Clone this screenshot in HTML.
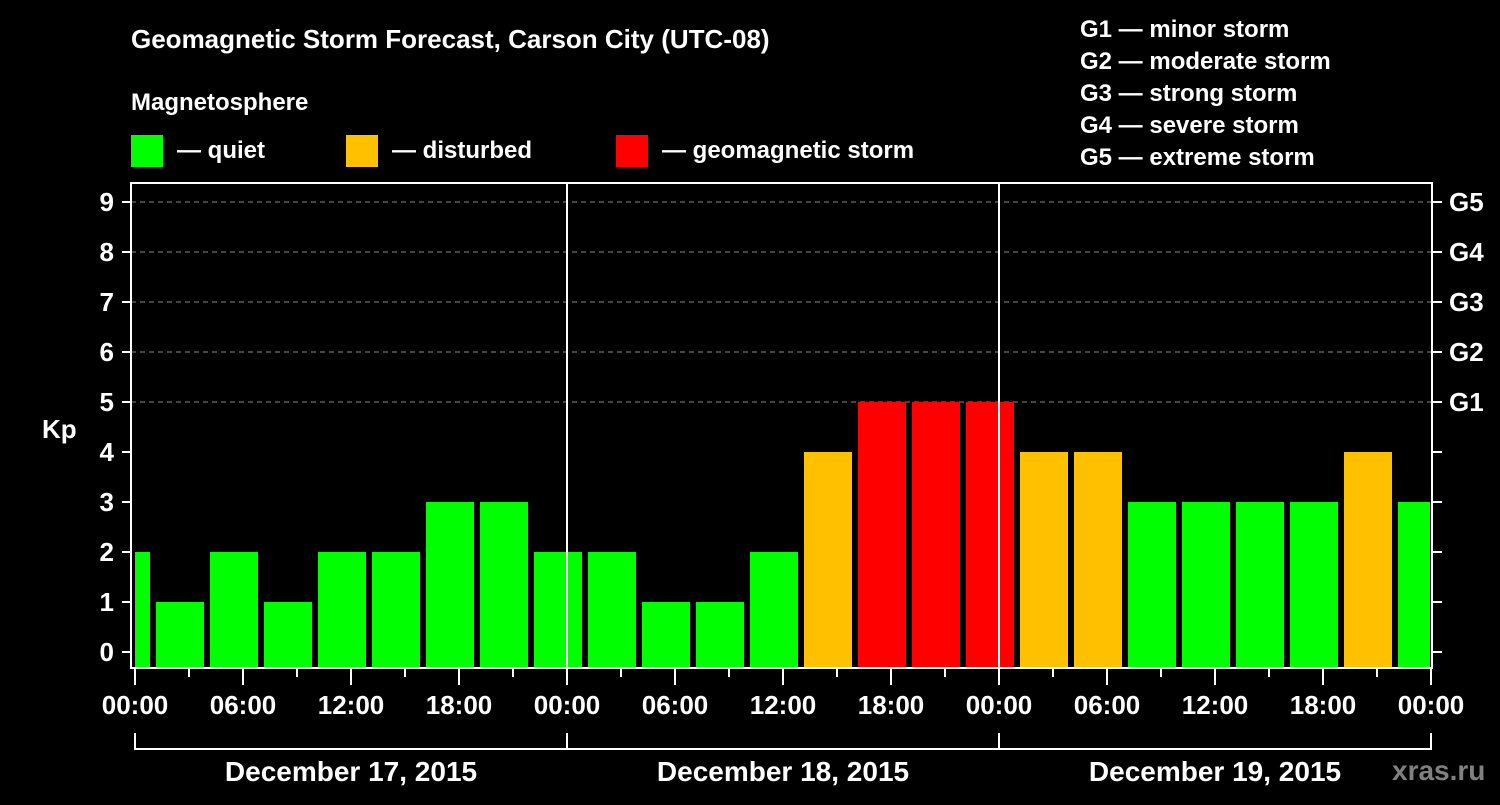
<!DOCTYPE html>
<html><head><meta charset="utf-8"><style>
html,body{margin:0;padding:0;background:#000;}
svg text{font-family:"Liberation Sans",Arial,sans-serif;font-weight:bold;fill:#fff;}
</style></head><body>
<svg id="chart" width="1500" height="800" xmlns="http://www.w3.org/2000/svg">
<rect x="0" y="0" width="1500" height="800" fill="#000"/>
<text x="131" y="48" font-size="26">Geomagnetic Storm Forecast, Carson City (UTC-08)</text>
<text x="131" y="110" font-size="24">Magnetosphere</text>
<g><rect x="131" y="135" width="32" height="32" fill="#00ff00"/><text x="177" y="158" font-size="24">— quiet</text></g>
<g><rect x="346" y="135" width="32" height="32" fill="#ffc000"/><text x="392" y="158" font-size="24">— disturbed</text></g>
<g><rect x="616" y="135" width="32" height="32" fill="#ff0000"/><text x="662" y="158" font-size="24">— geomagnetic storm</text></g>
<g font-size="24">
<text x="1080" y="37">G1 — minor storm</text>
<text x="1080" y="69">G2 — moderate storm</text>
<text x="1080" y="101">G3 — strong storm</text>
<text x="1080" y="133">G4 — severe storm</text>
<text x="1080" y="165">G5 — extreme storm</text>
</g>
<text x="42" y="438" font-size="26">Kp</text>
<g id="grid"></g><g id="bars"></g><g id="axes"></g>
<text x="1392" y="780" font-size="28" style="fill:#808080">xras.ru</text>
</svg>
<script>
const values = [2,1,2,1,2,2,3,3,2, 2,1,1,2,4,5,5,5, 4,4,3,3,3,3,4,3];
const yTicks = [0,1,2,3,4,5,6,7,8,9];
const gLabels = ["","","","","","G1","G2","G3","G4","G5"];
const xTickLabels = ["00:00","06:00","12:00","18:00","00:00","06:00","12:00","18:00","00:00","06:00","12:00","18:00","00:00"];
const dayLabels = ["December 17, 2015","December 18, 2015","December 19, 2015"];
const firstBinHour = -2;
const NS="http://www.w3.org/2000/svg";
const X0=135, PXH=18, L=131, R=1432, T=183, B=668;
const xs=h=>X0+h*PXH, ys=k=>652-50*k;
function mk(tag,attrs,parent){const e=document.createElementNS(NS,tag);for(const k in attrs)e.setAttribute(k,attrs[k]);parent.appendChild(e);return e;}
const grid=document.getElementById('grid'),bars=document.getElementById('bars'),axes=document.getElementById('axes');
yTicks.forEach((k,i)=>{
  if(k>=5){const g=mk('line',{x1:L,x2:R,y1:ys(k),y2:ys(k),stroke:'#888','stroke-dasharray':'5,4','stroke-width':1},grid);
  
  }
  mk('line',{x1:122,x2:L,y1:ys(k),y2:ys(k),stroke:'#fff','stroke-width':2},axes);
  mk('line',{x1:R,x2:R+10,y1:ys(k),y2:ys(k),stroke:'#fff','stroke-width':2},axes);
  const t=mk('text',{x:114,y:ys(k)+9,'font-size':26,'text-anchor':'end'},axes);t.textContent=k;
  
  
  if(gLabels[i]){const g=mk('text',{x:1449,y:ys(k)+9,'font-size':26},axes);g.textContent=gLabels[i];
  
  }
});
values.forEach((v,i)=>{
  let a=xs(firstBinHour+3*i)+3,b=xs(firstBinHour+3*i+3)-3;
  a=Math.max(a,X0);b=Math.min(b,1430);
  const col=v>=5?'#ff0000':(v>=4?'#ffc000':'#00ff00');
  const r=mk('rect',{x:a,y:ys(v),width:b-a,height:667-ys(v),fill:col},bars);
  
  
});
[1,2].forEach(d=>{mk('line',{x1:xs(24*d),x2:xs(24*d),y1:T,y2:B,stroke:'#fff','stroke-width':2},axes);});
mk('rect',{x:L,y:T,width:R-L,height:B-T,fill:'none',stroke:'#fff','stroke-width':2},axes);
for(let h=0;h<=72;h+=3){const maj=h%6==0;mk('line',{x1:xs(h),x2:xs(h),y1:B,y2:maj?685:677,stroke:'#fff','stroke-width':2},axes);}
xTickLabels.forEach((s,i)=>{const t=mk('text',{x:xs(6*i),y:714,'font-size':26,'text-anchor':'middle'},axes);t.textContent=s;
  
  });
mk('polyline',{points:`${xs(0)},733 ${xs(0)},749 ${xs(72)},749 ${xs(72)},733`,fill:'none',stroke:'#fff','stroke-width':2},axes);
[1,2].forEach(d=>mk('line',{x1:xs(24*d),x2:xs(24*d),y1:733,y2:749,stroke:'#fff','stroke-width':2},axes));
dayLabels.forEach((s,i)=>{const t=mk('text',{x:xs(24*i+12),y:781,'font-size':28,'text-anchor':'middle'},axes);t.textContent=s;
  
  });
</script>
</body></html>
